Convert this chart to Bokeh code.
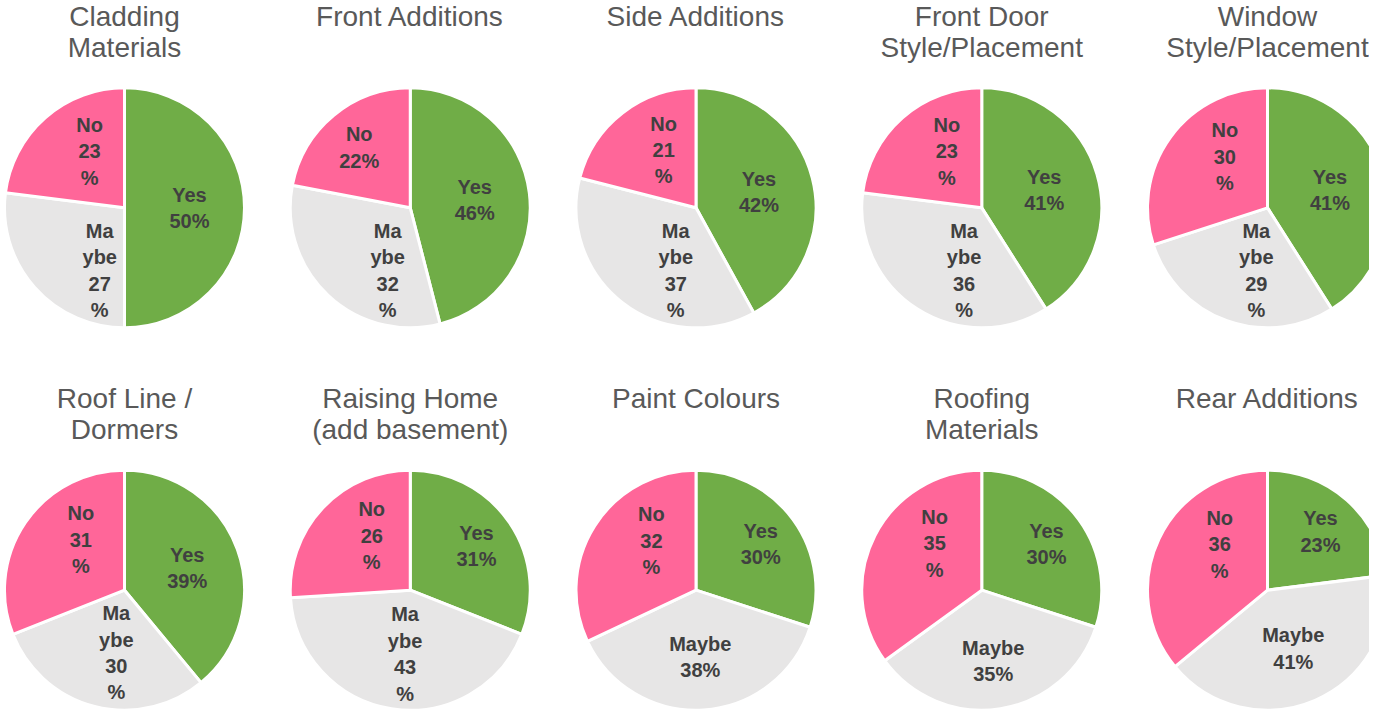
import numpy as np
from bokeh.plotting import figure
from bokeh.models import ColumnDataSource, Range1d
from bokeh.core.properties import value
from bokeh.embed import file_html
from bokeh.resources import INLINE

# ---------------- data ----------------
titles = ["Cladding\nMaterials", "Front Additions", "Side Additions",
          "Front Door\nStyle/Placement", "Window\nStyle/Placement",
          "Roof Line /\nDormers", "Raising Home\n(add basement)", "Paint Colours",
          "Roofing\nMaterials", "Rear Additions"]
categories = ["Yes", "Maybe", "No"]
yes_pct = [50, 46, 42, 41, 41, 39, 31, 30, 30, 23]
maybe_pct = [27, 32, 37, 36, 29, 30, 43, 38, 35, 41]
no_pct = [23, 22, 21, 23, 30, 31, 26, 32, 35, 36]
# whether the data label is wrapped in a narrow box
maybe_wrapped = [True, True, True, True, True, True, True, False, False, False]
no_wrapped = [True, False, True, True, True, True, True, True, True, True]

# ---------------- style / layout ----------------
colors = ["#70AD47", "#E7E6E6", "#FF6699"]
FONT = "Liberation Sans"
W, H = 1369, 709
REF_H = 725
R = 120
col_x = [124 + 285.75 * i for i in range(5)]
row_cy_ref = [212, 603]
row_title_ref = [16, 407]
title_line_gap = 32


def label_text(cat, v, wrapped):
    if not wrapped:
        return f"{cat}\n{v}%"
    if cat == "Maybe":
        return f"Ma\nybe\n{v}\n%"
    return f"{cat}\n{v}\n%"


def label_offset(theta, frac, nlines):
    s, c = np.sin(theta), np.cos(theta)
    if nlines == 2:
        r = float(np.clip(65 + (0.40 - frac) * 170, 65, 80))
        return r * s, r * c
    r = 66
    dx, dy = r * s, r * c
    if nlines == 3:
        dx *= 0.8
        dy = np.sign(dy) * (abs(dy) * 0.5 + 33)
    else:
        dx *= 0.5
        dy = np.sign(dy) * max(abs(dy), 64)
    return dx, dy


wx, wy, ws, we, wc = [], [], [], [], []
lx, ly, lt = [], [], []
tx, ty, tt = [], [], []

for i, title in enumerate(titles):
    row, col = divmod(i, 5)
    cx = col_x[col]
    cy = REF_H - row_cy_ref[row]
    for k, line in enumerate(title.split("\n")):
        tx.append(cx)
        ty.append(REF_H - (row_title_ref[row] + k * title_line_gap))
        tt.append(line)
    vals = [yes_pct[i], maybe_pct[i], no_pct[i]]
    wraps = [False, maybe_wrapped[i], no_wrapped[i]]
    total = float(sum(vals))
    cum = 0.0
    for j, v in enumerate(vals):
        f0 = cum / total
        f1 = (cum + v) / total
        cum += v
        wx.append(cx)
        wy.append(cy)
        ws.append(np.pi / 2 - 2 * np.pi * f1)
        we.append(np.pi / 2 - 2 * np.pi * f0)
        wc.append(colors[j])
        txt = label_text(categories[j], v, wraps[j])
        theta = 2 * np.pi * (f0 + f1) / 2
        dx, dy = label_offset(theta, f1 - f0, txt.count("\n") + 1)
        lx.append(cx + dx)
        ly.append(cy + dy)
        lt.append(txt)

p = figure(width=W, height=H, x_range=Range1d(0, W), y_range=Range1d(0, REF_H),
           output_backend="svg", toolbar_location=None,
           x_axis_location=None, y_axis_location=None, min_border=0)
p.grid.visible = False
p.outline_line_color = None
p.background_fill_color = "white"
p.border_fill_color = "white"

wsrc = ColumnDataSource(dict(x=wx, y=wy, s=ws, e=we, c=wc))
p.wedge(x="x", y="y", radius=R, start_angle="s", end_angle="e", direction="anticlock",
        fill_color="c", line_color="white", line_width=3, source=wsrc)

lsrc = ColumnDataSource(dict(x=lx, y=ly, t=lt))
p.text(x="x", y="y", text="t", source=lsrc, text_align="center", text_baseline="middle",
       text_font=value(FONT), text_font_style="bold", text_font_size="20px",
       text_color="#404040", text_line_height=1.2)

tsrc = ColumnDataSource(dict(x=tx, y=ty, t=tt))
p.text(x="x", y="y", text="t", source=tsrc, text_align="center", text_baseline="middle",
       text_font=value(FONT), text_font_size="28px", text_color="#595959")

open("out.html", "w").write(file_html(p, INLINE))
